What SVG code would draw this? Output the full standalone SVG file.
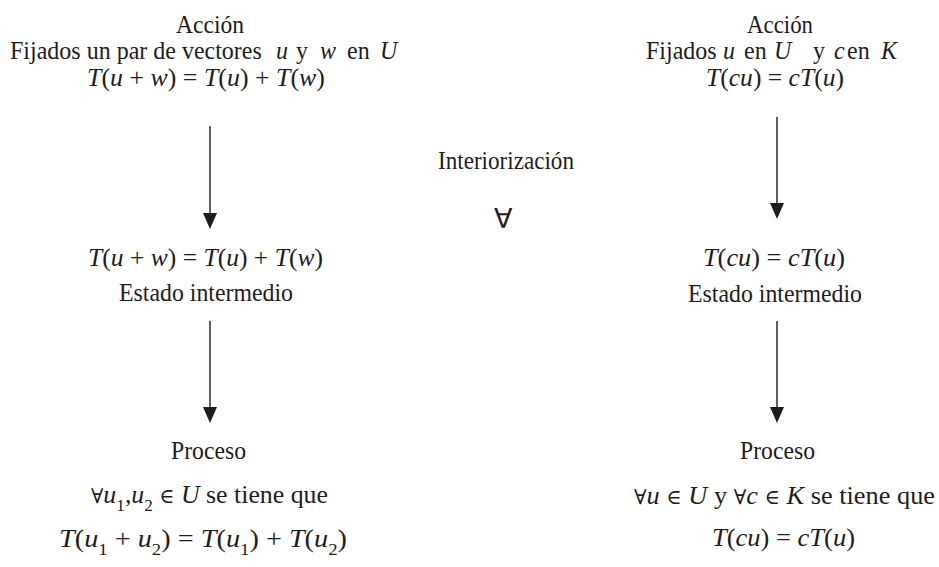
<svg xmlns="http://www.w3.org/2000/svg" width="939" height="567" viewBox="0 0 939 567">
<defs>
<style>
.t{font-family:'Liberation Serif',serif;font-size:24px;fill:#1e1c1d}
.i{font-style:italic}
.s{font-family:'DejaVu Serif',serif;font-size:19px;font-style:normal}
.sub{font-size:16px;font-style:normal}
.fa{font-family:'DejaVu Sans',sans-serif;font-size:27px;fill:#1e1c1d}
.ln{stroke:#1e1c1d;stroke-width:1.4;fill:none}
</style>
<marker id="ah" markerUnits="userSpaceOnUse" markerWidth="16" markerHeight="14" refX="6" refY="7" orient="auto" viewBox="0 0 16 14">
<path d="M0,0 L16,7 L0,14 Z" fill="#1e1c1d"/>
</marker>
</defs>
<rect width="939" height="567" fill="#ffffff"/>

<g id="accion-suma">
<text class="t" transform="matrix(1 0 0 1.08 0 33)" x="176" y="0" textLength="68" lengthAdjust="spacingAndGlyphs">Acción</text>
<text class="t" transform="matrix(1 0 0 1.08 0 59)" y="0"><tspan x="10">Fijados un par de vectores</tspan><tspan x="276" class="i">u</tspan><tspan x="296">y</tspan><tspan x="320" class="i">w</tspan><tspan x="347">en</tspan><tspan x="380" class="i">U</tspan></text>
<text class="t" transform="matrix(1 0 0 1.08 0 86)" x="87" y="0" textLength="238" lengthAdjust="spacingAndGlyphs"><tspan class="i">T</tspan>(<tspan class="i">u</tspan> + <tspan class="i">w</tspan>) = <tspan class="i">T</tspan>(<tspan class="i">u</tspan>) + <tspan class="i">T</tspan>(<tspan class="i">w</tspan>)</text>
</g>

<g id="accion-escalar">
<text class="t" transform="matrix(1 0 0 1.08 0 33)" x="747" y="0" textLength="66" lengthAdjust="spacingAndGlyphs">Acción</text>
<text class="t" transform="matrix(1 0 0 1.08 0 59)" y="0"><tspan x="646">Fijados</tspan><tspan x="723" class="i">u</tspan><tspan x="744">en</tspan><tspan x="774" class="i">U</tspan><tspan x="813">y</tspan><tspan x="834" class="i">c</tspan><tspan x="847">en</tspan><tspan x="881" class="i">K</tspan></text>
<text class="t" transform="matrix(1 0 0 1.08 0 86)" x="706" y="0" textLength="138" lengthAdjust="spacingAndGlyphs"><tspan class="i">T</tspan>(<tspan class="i">cu</tspan>) = <tspan class="i">cT</tspan>(<tspan class="i">u</tspan>)</text>
</g>

<g id="interiorizacion">
<text class="t" transform="matrix(1 0 0 1.08 0 169)" x="438" y="0" textLength="136" lengthAdjust="spacingAndGlyphs">Interiorización</text>
<text class="fa" x="494" y="228">∀</text>
</g>

<g id="intermedio-suma">
<text class="t" transform="matrix(1 0 0 1.08 0 266)" x="88" y="0" textLength="235" lengthAdjust="spacingAndGlyphs"><tspan class="i">T</tspan>(<tspan class="i">u</tspan> + <tspan class="i">w</tspan>) = <tspan class="i">T</tspan>(<tspan class="i">u</tspan>) + <tspan class="i">T</tspan>(<tspan class="i">w</tspan>)</text>
<text class="t" transform="matrix(1 0 0 1.08 0 301)" x="119" y="0" textLength="174" lengthAdjust="spacingAndGlyphs">Estado intermedio</text>
</g>

<g id="intermedio-escalar">
<text class="t" transform="matrix(1 0 0 1.08 0 266)" x="703" y="0" textLength="142" lengthAdjust="spacingAndGlyphs"><tspan class="i">T</tspan>(<tspan class="i">cu</tspan>) = <tspan class="i">cT</tspan>(<tspan class="i">u</tspan>)</text>
<text class="t" transform="matrix(1 0 0 1.08 0 302)" x="688" y="0" textLength="174" lengthAdjust="spacingAndGlyphs">Estado intermedio</text>
</g>

<g id="proceso-suma">
<text class="t" transform="matrix(1 0 0 1.08 0 459)" x="171" y="0" textLength="75" lengthAdjust="spacingAndGlyphs">Proceso</text>
<text class="t" transform="matrix(1 0 0 1.08 0 503)" x="91" y="0" textLength="237" lengthAdjust="spacingAndGlyphs"><tspan class="s">∀</tspan><tspan class="i">u</tspan><tspan class="sub" dy="7">1</tspan><tspan dy="-7">,</tspan><tspan class="i">u</tspan><tspan class="sub" dy="7">2</tspan><tspan dy="-7"> </tspan><tspan class="s">∈</tspan> <tspan class="i">U</tspan> se tiene que</text>
<text class="t" transform="matrix(1 0 0 1.08 0 547)" x="59" y="0" textLength="288" lengthAdjust="spacingAndGlyphs"><tspan class="i">T</tspan>(<tspan class="i">u</tspan><tspan class="sub" dy="7">1</tspan><tspan dy="-7"> + </tspan><tspan class="i">u</tspan><tspan class="sub" dy="7">2</tspan><tspan dy="-7">) = </tspan><tspan class="i">T</tspan>(<tspan class="i">u</tspan><tspan class="sub" dy="7">1</tspan><tspan dy="-7">) + </tspan><tspan class="i">T</tspan>(<tspan class="i">u</tspan><tspan class="sub" dy="7">2</tspan><tspan dy="-7">)</tspan></text>
</g>

<g id="proceso-escalar">
<text class="t" transform="matrix(1 0 0 1.08 0 459)" x="740" y="0" textLength="75" lengthAdjust="spacingAndGlyphs">Proceso</text>
<text class="t" transform="matrix(1 0 0 1.08 0 504)" x="634" y="0" textLength="301" lengthAdjust="spacingAndGlyphs"><tspan class="s">∀</tspan><tspan class="i">u</tspan> <tspan class="s">∈</tspan> <tspan class="i">U</tspan> y <tspan class="s">∀</tspan><tspan class="i">c</tspan> <tspan class="s">∈</tspan> <tspan class="i">K</tspan> se tiene que</text>
<text class="t" transform="matrix(1 0 0 1.08 0 546)" x="712" y="0" textLength="143" lengthAdjust="spacingAndGlyphs"><tspan class="i">T</tspan>(<tspan class="i">cu</tspan>) = <tspan class="i">cT</tspan>(<tspan class="i">u</tspan>)</text>
</g>

<g id="conectores">
<line class="ln" x1="210" y1="126" x2="210" y2="219" marker-end="url(#ah)"/>
<line class="ln" x1="210" y1="321" x2="210" y2="413" marker-end="url(#ah)"/>
<line class="ln" x1="777" y1="117" x2="777" y2="209" marker-end="url(#ah)"/>
<line class="ln" x1="777" y1="321" x2="777" y2="413" marker-end="url(#ah)"/>
</g>
</svg>
